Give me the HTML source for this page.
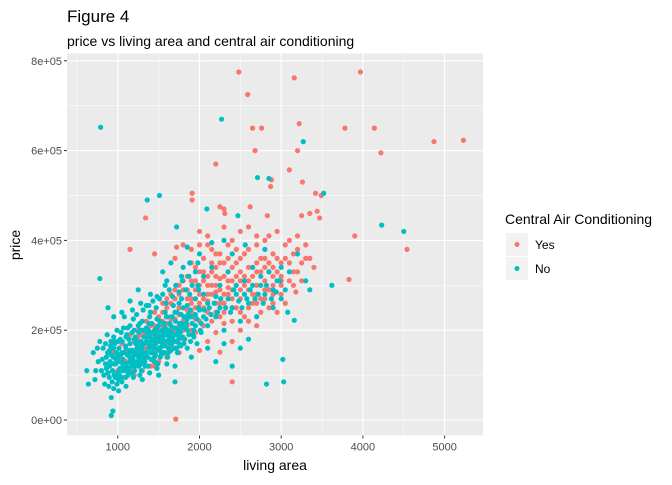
<!DOCTYPE html>
<html><head><meta charset="utf-8"><style>
body{margin:0;background:#fff;}
svg text{font-family:"Liberation Sans",Arial,sans-serif;}
</style></head><body>
<svg id="chart" width="672" height="480" xmlns="http://www.w3.org/2000/svg">
<text x="67" y="22" font-size="17" fill="#000">Figure 4</text>
<text x="67" y="46" font-size="14" fill="#000">price vs living area and central air conditioning</text>
<rect x="67" y="53.5" width="416" height="382" fill="#EBEBEB"/>
<g id="grid"></g>
<g id="axes"></g>
<g id="pts"></g>
<text x="275" y="470" font-size="14" text-anchor="middle" fill="#000">living area</text>
<text transform="translate(20,245) rotate(-90)" font-size="14" text-anchor="middle" fill="#000">price</text>
<g>
<text x="505" y="224" font-size="14" fill="#000">Central Air Conditioning</text>
<rect x="506" y="233" width="22" height="23" fill="#F2F2F2"/>
<circle cx="517" cy="244.5" r="2.5" fill="#F8766D"/>
<text x="535" y="249" font-size="12" fill="#000">Yes</text>
<rect x="506" y="257" width="22" height="23" fill="#F2F2F2"/>
<circle cx="517" cy="268.5" r="2.5" fill="#00BFC4"/>
<text x="535" y="273" font-size="12" fill="#000">No</text>
</g>
</svg>
<script>
const xTicks=[1000,2000,3000,4000,5000];
const yTicks=[0,200000,400000,600000,800000];
const yTickLabels=["0e+00","2e+05","4e+05","6e+05","8e+05"];
const xMinor=[500,1500,2500,3500,4500];
const yMinor=[100000,300000,500000,700000];
// Central air = Yes : [living area, price in $1000]
const yesPoints=[[2480,775],[3970,775],[3160,762],[2590,725],[3220,660],[2650,650],[2760,650],[3780,650],[4140,650],[4870,620],[5230,623],[2680,600],[3200,600],[4220,595],[2200,570],[3100,557],[2880,535],[3260,530],[2870,520],[1910,505],[3420,505],[3490,500],[1910,490],[2250,475],[2620,475],[2300,470],[3440,465],[2310,460],[1340,450],[3350,460],[2830,455],[3250,455],[3470,450],[3900,410],[4540,380],[3830,313],[3180,285],[1150,380],[1720,385],[1450,370],[1710,2],[2400,85],[2250,151],
[1100,130],[1200,150],[1250,120],[1300,170],[1350,140],[1400,190],[1450,160],[1500,180],[1550,210],[1600,170],[1650,230],[1700,200],[1750,250],[1800,220],[1850,270],[1900,240],[1950,290],[2000,260],[2050,310],[2100,280],[2150,330],[2200,300],[2250,350],[2300,320],[2350,280],[2400,340],[2450,300],[2500,360],[2550,320],[2600,380],[2650,340],[2700,300],[2750,360],[2800,400],[2850,330],[2900,370],[2950,420],[3000,350],[3050,390],[3100,310],[3150,370],[3200,410],[3250,350],[3300,390],[3350,360],[3400,340],[1700,360],[1800,390],[1900,380],[2000,420],[2100,390],[2200,370],[2300,430],[2400,400],[2500,420],[2600,430],[2700,410],[2800,360],[2900,300],[3000,320],[3100,400],[3200,380],[2200,240],[2300,260],[2400,220],[2500,270],[2600,250],[2700,280],[2800,270],[2900,260],[3000,280],[2000,220],[2100,240],[1900,200],[1800,180],[1700,160],[1600,140],[1500,130],[1400,120],[1300,110],[1200,100],[1100,95],[1000,110],[950,150],[1050,170],[1150,190],[1250,200],[1350,220],[1450,240],[1550,260],[1650,280],[1750,300],[1850,320],[1950,340],[2050,360],[2150,380],[2250,290],[2350,310],[2450,250],[2550,230],[2650,260],[2750,240],[2850,290],[2950,330],[3050,360],[3150,300],[1600,250],[1700,270],[1800,290],[1900,310],[2000,330],[2100,300],[2200,320],[1650,200],[1750,210],[1850,230],[1950,250],[2050,270],[1500,230],[1400,210],[1300,190],[1200,175],[1100,155],[2400,270],[2500,290],[2600,310],[2700,330],[2800,310],[2900,340],[3000,300],[2450,350],[2550,370],[2350,360],[2700,390],[2850,410],[2150,280],[2250,260],[1550,170],[1450,150],[1350,160],[1250,165],[1150,140],[1050,135],[2000,155],[2100,175],[2200,195],[2400,175],[2300,215],[2500,200],
[1500,200],[1600,215],[1650,190],[1700,225],[1750,235],[1800,200],[1850,245],[1900,260],[1950,225],[2000,280],[2050,250],[2100,265],[2150,300],[2200,285],[2250,315],[2300,280],[2350,295],[2400,310],[2450,320],[2500,330],[2550,300],[2600,340],[2650,320],[2700,350],[2750,330],[2800,340],[2850,350],[2900,320],[2950,360],[1400,165],[1450,180],[1350,175],[1550,220],[1450,210],[1650,260],[1750,280],[1850,290],[1950,310],[2050,330],[2150,350],[2250,370],[2350,390],[2450,380],[1300,150],[1250,185],[1200,130],[1900,350],[2000,390],[2100,410],[2200,340],[2300,350],[2400,290],[2500,310],[2600,290],[2700,260],[2800,290],[2900,280],[3000,310],[3100,350],[3200,330],[3300,360],[1600,270],[1700,290],[1800,310],[1900,270],[2000,300],[2100,320],[2200,260],[2300,240],[2400,250],[2500,240],[2600,220],[2700,210],[1550,240],[1650,225],[1750,185],[1850,210],[1950,195],[2050,210],[2150,220],[2250,230],[1150,110],[1250,145],[1350,195],[1450,120],[1550,150],[1650,160],[1750,150],[2650,280],[2750,270],[2850,250],[2950,240],[3050,260],[3150,330],[3250,310]];
// Central air = No
const noPoints=[[790,652],[2270,670],[3270,620],[2710,540],[2850,538],[3520,505],[1360,490],[1510,500],[2090,470],[2470,455],[4230,434],[4500,420],[1720,430],[1850,385],[3620,300],[780,315],[3160,222],[3080,240],[3020,135],[2820,80],[3030,85],[2200,130],[2400,120],[920,50],[940,20],[920,10],[1700,85],[1050,85],[620,110],[640,80],
[700,150],[720,90],[760,130],[780,175],[800,110],[820,160],[840,80],[860,140],[870,190],[890,75],[910,165],[930,85],[950,185],[970,95],[990,200],[1010,90],[1030,180],[1050,110],[1070,205],[1090,95],[1110,190],[1130,115],[1150,210],[1170,105],[1190,225],[1210,120],[1230,235],[1250,125],[1270,215],[1290,110],[1310,245],[1330,130],[1350,255],[1370,120],[1390,230],[1410,135],[1430,265],[1450,140],[1470,250],[1490,125],[1510,270],[1530,145],[1550,280],[1570,150],[1590,260],[1610,140],[1630,290],[1650,155],[1670,275],[1690,160],[1710,300],[1730,150],[1750,285],[1770,165],[1790,310],[1810,170],[1830,290],[1850,160],[1870,320],[1890,175],[1910,300],[1930,185],[1950,330],[1970,170],[1990,290],[2010,200],[2050,320],[2100,210],[2150,340],[2200,230],[2250,300],[2300,200],[2350,330],[2400,250],[2450,280],[2500,220],[2550,310],[2600,260],[2650,340],[2700,230],[2750,300],[2800,280],[2850,330],[2900,250],[2950,310],[3000,270],[3050,290],[3100,330],[3200,370],[3300,310],[3350,290],[2600,180],[2500,160],[2300,170],[2100,160],[1900,140],[1700,120],[1500,100],[1300,90],[1100,75],[950,70],[1200,200],[1250,210],[1300,220],[1400,240],[1600,310],[1800,340],[2000,370],[2150,395],[2300,400],[2560,390],[2800,380],[3000,340],[2400,370],[1250,290],[1150,265],[1050,240],[950,230],[880,250],[1550,330],[1650,350],[1400,280],[1000,175],[1100,185],[1200,145],[1300,160],[1400,175],[1500,160],[1600,190],[1700,205],[1800,215],[1900,230],[2000,245],[2100,260],[2200,275],[1450,200],[1550,170],[1350,150],[1250,140],[1150,130],[1050,150],[950,160],[850,170],[1600,230],[1700,240],[1800,250],[1500,210],[1400,195],[1300,170],[1200,180],[1100,160],[1000,140],[900,120],[1650,180],[1750,170],[1850,200],[1950,210],[2050,230],[2250,250],[2350,270],[2450,300],[2550,280],[2650,300],[2750,320],[2900,290],[950,125],[1050,115],[1150,170],[1250,155],[1350,205],[1450,175],[1550,190],[1650,210],[1750,260],[1850,255],[1950,270],[2050,280],[880,105],[920,145],[980,135],[1020,100],[1080,125],[1120,110],[1180,155],[1220,170],[1280,125],[1320,185],[1380,170],[1420,150],[1480,185],[1520,160],[1580,205],[1620,160],[1680,190],[1720,175],
[860,115],[875,150],[895,95],[905,130],[915,175],[935,110],[945,140],[955,100],[965,170],[975,125],[985,150],[995,105],[1005,130],[1015,160],[1025,115],[1035,145],[1045,95],[1055,175],[1065,135],[1075,150],[1085,110],[1095,165],[1105,125],[1115,145],[1125,100],[1135,180],[1145,140],[1155,155],[1165,120],[1175,195],[1185,135],[1195,150],[1205,110],[1215,185],[1225,145],[1235,160],[1245,130],[1255,195],[1265,165],[1275,145],[1285,175],[1295,135],[1305,200],[1315,150],[1325,170],[1335,120],[1345,185],[1355,175],[1365,140],[1375,200],[1385,160],[1395,185],[1405,150],[1415,215],[1425,165],[1435,180],[1445,130],[1455,190],[1465,170],[1475,205],[1485,155],[1495,195],[1505,175],[1515,220],[1525,185],[1535,150],[1545,200],[1555,180],[1565,215],[1575,165],[1585,190],[1595,230],[1605,175],[1615,200],[1625,185],[1635,215],[1645,170],[1655,195],[1665,230],[1675,185],[1685,205],[1695,175],[1705,220],[1715,190],[1725,240],[1735,200],[1745,180],[1755,215],[1765,195],[1775,235],[1785,205],[1795,185],[1810,230],[1830,205],[1850,225],[1870,190],[1890,245],[1910,215],[1930,200],[1950,235],[1970,225],[1990,250],[2020,215],[2060,245],[2080,225],[2120,250],[2140,235],[2180,260],[2220,240],[2260,270],[2320,250],[2380,240],[2420,290],[2480,265],[2520,250],[2580,270],[2620,290],[2680,270],[2720,280],[2780,260],[2820,300],[2880,270],[2940,285],[2980,310],[1020,145],[1060,125],[1140,150],[1160,135],[1240,175],[1260,120],[1340,140],[1360,195],[1440,160],[1460,145],[1540,165],[1560,195],[1640,195],[1660,170],[1740,190],[1760,205],[1840,215],[1860,235],[900,155],[960,175],[1040,195],[1120,205],[1200,130],[1280,200],[1380,215],[1480,225],[1580,240],[1680,255],[1780,270],[1880,280],[1980,300],[1100,115],[1180,120],[1320,140],[1420,135],[1520,140],[1620,150],[1720,160],[1820,180],[1920,190],[2020,195],[730,110],[750,160],[810,135],[830,100],[850,125],[990,80],[1010,65],[1190,95],[1270,100],[1390,105],[1480,115],[1600,125],[1080,230],[1180,245],[1280,260],[1380,255],[1480,275],[1580,300],[1780,320],[1880,350],[1980,350]];

const NS="http://www.w3.org/2000/svg";
const X0=67,X1=483,Y0=435.5,Y1=53.5;
function xs(v){return 36.1+v*0.0817;}
function ys(v){return 420-v*89.8/200000;}
function mk(tag,attrs,parent){const e=document.createElementNS(NS,tag);for(const k in attrs)e.setAttribute(k,attrs[k]);parent.appendChild(e);return e;}
const grid=document.getElementById('grid'),axes=document.getElementById('axes'),pts=document.getElementById('pts');
xMinor.forEach(v=>{const l=mk('line',{x1:xs(v),x2:xs(v),y1:Y1,y2:Y0,stroke:'#fff','stroke-width':0.5},grid);

});
yMinor.forEach(v=>{const l=mk('line',{x1:X0,x2:X1,y1:ys(v),y2:ys(v),stroke:'#fff','stroke-width':0.5},grid);

});
xTicks.forEach(v=>{const l=mk('line',{x1:xs(v),x2:xs(v),y1:Y1,y2:Y0,stroke:'#fff','stroke-width':1.1},grid);


const t=mk('line',{x1:xs(v),x2:xs(v),y1:Y0,y2:Y0+3,stroke:'#333','stroke-width':1},axes);


const tx=mk('text',{x:xs(v),y:Y0+15,'font-size':11,'text-anchor':'middle',fill:'#4D4D4D'},axes);tx.textContent=v;

});
yTicks.forEach((v,i)=>{const l=mk('line',{x1:X0,x2:X1,y1:ys(v),y2:ys(v),stroke:'#fff','stroke-width':1.1},grid);


const t=mk('line',{x1:X0-3,x2:X0,y1:ys(v),y2:ys(v),stroke:'#333','stroke-width':1},axes);


const tx=mk('text',{x:X0-5,y:ys(v)+4,'font-size':11,'text-anchor':'end',fill:'#4D4D4D'},axes);tx.textContent=yTickLabels[i];

});
function draw(arr,col,name){arr.forEach(p=>{const c=mk('circle',{cx:xs(p[0]),cy:ys(p[1]*1000),r:2.6,fill:col},pts);

});}
draw(yesPoints,'#F8766D','point-yes');
draw(noPoints,'#00BFC4','point-no');
</script>
</body></html>
